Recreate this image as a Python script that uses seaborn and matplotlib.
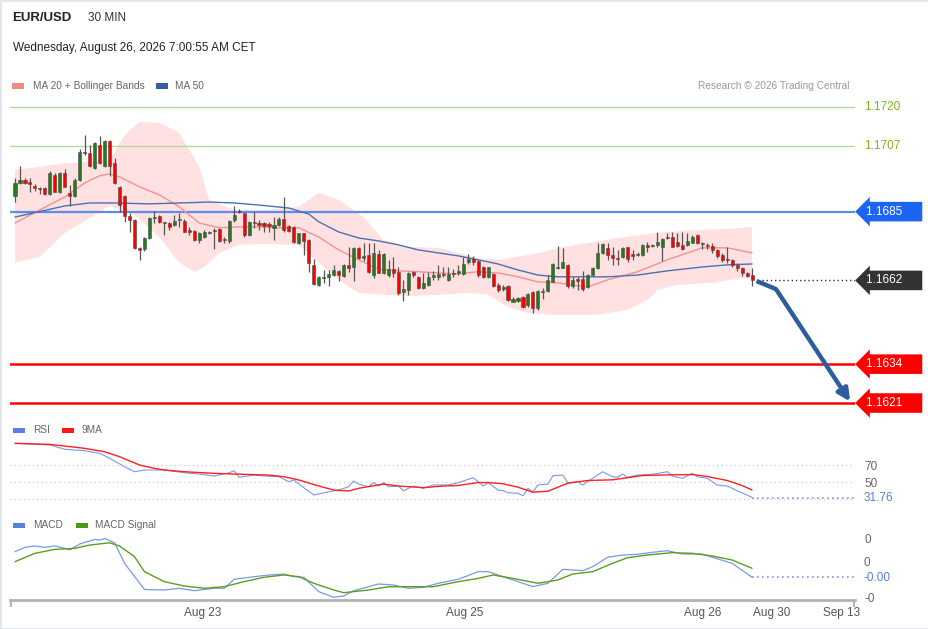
import numpy as np
import matplotlib
matplotlib.use('Agg')
import matplotlib.pyplot as plt
import seaborn as sns
from matplotlib.patches import Rectangle
from matplotlib.transforms import blended_transform_factory

# 30 min candles (index 0 = first bar on the chart)
opens = [1.16903, 1.16946, 1.16956, 1.16949, 1.16936, 1.16929, 1.16929, 1.16910, 1.16973, 1.16916,
         1.16980, 1.16913, 1.16903, 1.16956, 1.17050, 1.17046, 1.16996, 1.17073, 1.17003, 1.17087,
         1.17013, 1.16933, 1.16903, 1.16836, 1.16822, 1.16729, 1.16725, 1.16762, 1.16829, 1.16836,
         1.16815, 1.16812, 1.16805, 1.16822, 1.16819, 1.16789, 1.16786, 1.16755, 1.16765, 1.16782,
         1.16789, 1.16792, 1.16759, 1.16752, 1.16822, 1.16853, 1.16846, 1.16772, 1.16816, 1.16812,
         1.16812, 1.16809, 1.16796, 1.16805, 1.16826, 1.16802, 1.16799, 1.16745, 1.16779, 1.16755,
         1.16672, 1.16605, 1.16632, 1.16632, 1.16638, 1.16652, 1.16635, 1.16672, 1.16665, 1.16730,
         1.16695, 1.16705, 1.16638, 1.16709, 1.16646, 1.16638, 1.16658, 1.16649, 1.16582, 1.16588,
         1.16649, 1.16632, 1.16595, 1.16605, 1.16632, 1.16632, 1.16642, 1.16622, 1.16646, 1.16645,
         1.16642, 1.16682, 1.16692, 1.16685, 1.16665, 1.16632, 1.16642, 1.16605, 1.16592, 1.16602,
         1.16548, 1.16552, 1.16565, 1.16538, 1.16582, 1.16528, 1.16582, 1.16585, 1.16615, 1.16662,
         1.16662, 1.16672, 1.16602, 1.16625, 1.16625, 1.16598, 1.16638, 1.16662, 1.16712, 1.16729,
         1.16705, 1.16695, 1.16699, 1.16732, 1.16709, 1.16705, 1.16705, 1.16739, 1.16735, 1.16739,
         1.16732, 1.16765, 1.16765, 1.16749, 1.16739, 1.16739, 1.16745, 1.16772, 1.16745, 1.16739,
         1.16735, 1.16722, 1.16705, 1.16692, 1.16689, 1.16672, 1.16662, 1.16645, 1.16638]
highs = [1.16963, 1.17003, 1.16963, 1.16963, 1.16943, 1.16933, 1.16933, 1.16987, 1.16980, 1.16983,
         1.16993, 1.16939, 1.16963, 1.17060, 1.17106, 1.17073, 1.17083, 1.17103, 1.17090, 1.17090,
         1.17030, 1.16936, 1.16906, 1.16846, 1.16826, 1.16732, 1.16765, 1.16832, 1.16853, 1.16839,
         1.16816, 1.16816, 1.16839, 1.16846, 1.16826, 1.16799, 1.16789, 1.16782, 1.16789, 1.16786,
         1.16796, 1.16796, 1.16765, 1.16822, 1.16869, 1.16859, 1.16847, 1.16819, 1.16849, 1.16822,
         1.16815, 1.16815, 1.16832, 1.16832, 1.16899, 1.16805, 1.16802, 1.16779, 1.16780, 1.16759,
         1.16692, 1.16635, 1.16655, 1.16655, 1.16672, 1.16655, 1.16675, 1.16732, 1.16732, 1.16732,
         1.16745, 1.16745, 1.16745, 1.16722, 1.16712, 1.16689, 1.16699, 1.16665, 1.16622, 1.16649,
         1.16652, 1.16635, 1.16645, 1.16649, 1.16652, 1.16672, 1.16665, 1.16665, 1.16658, 1.16672,
         1.16699, 1.16709, 1.16702, 1.16689, 1.16669, 1.16665, 1.16645, 1.16612, 1.16605, 1.16605,
         1.16565, 1.16565, 1.16568, 1.16578, 1.16585, 1.16588, 1.16595, 1.16638, 1.16678, 1.16736,
         1.16729, 1.16675, 1.16632, 1.16632, 1.16652, 1.16642, 1.16665, 1.16745, 1.16745, 1.16745,
         1.16732, 1.16722, 1.16732, 1.16733, 1.16722, 1.16715, 1.16742, 1.16749, 1.16742, 1.16782,
         1.16762, 1.16779, 1.16782, 1.16779, 1.16782, 1.16779, 1.16772, 1.16775, 1.16749, 1.16745,
         1.16745, 1.16725, 1.16712, 1.16732, 1.16692, 1.16679, 1.16665, 1.16649, 1.16662]
lows = [1.16882, 1.16943, 1.16943, 1.16916, 1.16920, 1.16910, 1.16906, 1.16906, 1.16916, 1.16913,
        1.16933, 1.16869, 1.16899, 1.16953, 1.17040, 1.17000, 1.16993, 1.17010, 1.17000, 1.16970,
        1.16943, 1.16849, 1.16815, 1.16782, 1.16725, 1.16689, 1.16719, 1.16759, 1.16812, 1.16812,
        1.16772, 1.16789, 1.16802, 1.16799, 1.16782, 1.16772, 1.16752, 1.16745, 1.16762, 1.16775,
        1.16725, 1.16749, 1.16745, 1.16745, 1.16816, 1.16846, 1.16765, 1.16769, 1.16796, 1.16789,
        1.16782, 1.16782, 1.16755, 1.16802, 1.16782, 1.16782, 1.16745, 1.16742, 1.16705, 1.16649,
        1.16605, 1.16602, 1.16612, 1.16602, 1.16635, 1.16618, 1.16632, 1.16649, 1.16618, 1.16692,
        1.16685, 1.16645, 1.16628, 1.16645, 1.16642, 1.16632, 1.16632, 1.16572, 1.16552, 1.16572,
        1.16632, 1.16592, 1.16592, 1.16602, 1.16622, 1.16622, 1.16632, 1.16618, 1.16632, 1.16638,
        1.16638, 1.16675, 1.16672, 1.16632, 1.16628, 1.16628, 1.16598, 1.16582, 1.16585, 1.16552,
        1.16547, 1.16547, 1.16528, 1.16531, 1.16511, 1.16521, 1.16558, 1.16582, 1.16614, 1.16659,
        1.16661, 1.16595, 1.16595, 1.16588, 1.16585, 1.16595, 1.16635, 1.16658, 1.16709, 1.16689,
        1.16672, 1.16672, 1.16695, 1.16682, 1.16689, 1.16702, 1.16702, 1.16715, 1.16732, 1.16732,
        1.16685, 1.16759, 1.16732, 1.16732, 1.16722, 1.16735, 1.16744, 1.16742, 1.16725, 1.16725,
        1.16712, 1.16695, 1.16682, 1.16679, 1.16665, 1.16652, 1.16635, 1.16632, 1.16602]
closes = [1.16946, 1.16956, 1.16946, 1.16943, 1.16929, 1.16927, 1.16910, 1.16980, 1.16917, 1.16980,
          1.16934, 1.16903, 1.16956, 1.17050, 1.17046, 1.17001, 1.17080, 1.17013, 1.17086, 1.17001,
          1.16946, 1.16872, 1.16836, 1.16822, 1.16729, 1.16722, 1.16762, 1.16829, 1.16832, 1.16815,
          1.16812, 1.16799, 1.16819, 1.16824, 1.16783, 1.16783, 1.16755, 1.16779, 1.16782, 1.16779,
          1.16786, 1.16752, 1.16755, 1.16819, 1.16839, 1.16849, 1.16772, 1.16816, 1.16812, 1.16805,
          1.16802, 1.16802, 1.16805, 1.16826, 1.16789, 1.16786, 1.16747, 1.16778, 1.16752, 1.16678,
          1.16608, 1.16632, 1.16628, 1.16642, 1.16655, 1.16638, 1.16672, 1.16662, 1.16730, 1.16695,
          1.16702, 1.16649, 1.16712, 1.16646, 1.16709, 1.16658, 1.16645, 1.16578, 1.16590, 1.16646,
          1.16638, 1.16595, 1.16612, 1.16632, 1.16638, 1.16642, 1.16638, 1.16642, 1.16642, 1.16652,
          1.16675, 1.16692, 1.16683, 1.16638, 1.16632, 1.16664, 1.16602, 1.16588, 1.16598, 1.16555,
          1.16558, 1.16562, 1.16531, 1.16575, 1.16528, 1.16585, 1.16585, 1.16622, 1.16675, 1.16665,
          1.16682, 1.16602, 1.16622, 1.16618, 1.16592, 1.16638, 1.16662, 1.16712, 1.16742, 1.16705,
          1.16695, 1.16692, 1.16729, 1.16692, 1.16702, 1.16709, 1.16739, 1.16732, 1.16739, 1.16749,
          1.16759, 1.16762, 1.16733, 1.16735, 1.16725, 1.16752, 1.16765, 1.16745, 1.16742, 1.16735,
          1.16722, 1.16702, 1.16689, 1.16688, 1.16672, 1.16662, 1.16645, 1.16635, 1.16620]

# moving averages and bands, read at selected bars
ma20_x = [0, 5, 10, 14, 17, 19, 21, 25, 29, 33, 37, 41, 45, 49, 53, 57, 61, 65, 69, 73, 77, 81, 85, 89,
          93, 97, 101, 105, 109, 113, 115, 119, 125, 131, 138, 143, 148]
ma20_y = [1.16812, 1.16856, 1.16899, 1.16946, 1.16970, 1.16976, 1.16966, 1.16933, 1.16906, 1.16866,
          1.16812, 1.16796, 1.16799, 1.16799, 1.16796, 1.16796, 1.16765, 1.16722, 1.16689, 1.16658,
          1.16652, 1.16649, 1.16645, 1.16642, 1.16649, 1.16645, 1.16632, 1.16615, 1.16612, 1.16602,
          1.16598, 1.16622, 1.16649, 1.16689, 1.16729, 1.16729, 1.16712]
ma50_x = [0, 10, 15, 20, 27, 33, 39, 44, 49, 55, 59, 61, 65, 69, 73, 77, 81, 85, 89, 93, 97, 101, 105,
          109, 113, 119, 125, 131, 138, 143, 148]
ma50_y = [1.16832, 1.16869, 1.16879, 1.16879, 1.16876, 1.16879, 1.16882, 1.16879, 1.16872, 1.16862,
          1.16842, 1.16816, 1.16782, 1.16762, 1.16752, 1.16739, 1.16722, 1.16712, 1.16702, 1.16689,
          1.16675, 1.16655, 1.16638, 1.16632, 1.16632, 1.16632, 1.16638, 1.16652, 1.16665, 1.16672,
          1.16675]
bb_up_x = [0, 5, 9, 19, 22, 25, 29, 33, 37, 39, 44, 50, 57, 61, 65, 70, 74, 79, 85, 89, 93, 97, 101,
           106, 109, 115, 121, 129, 137, 143, 148]
bb_up_y = [1.16990, 1.17000, 1.17010, 1.17023, 1.17106, 1.17150, 1.17147, 1.17113, 1.17000, 1.16889,
           1.16856, 1.16856, 1.16866, 1.16913, 1.16889, 1.16832, 1.16755, 1.16732, 1.16729, 1.16712,
           1.16695, 1.16689, 1.16699, 1.16715, 1.16729, 1.16745, 1.16762, 1.16779, 1.16789, 1.16792,
           1.16799]
bb_lo_x = [0, 5, 10, 19, 24, 29, 33, 36, 38, 41, 45, 50, 57, 61, 65, 69, 74, 79, 85, 91, 95, 99, 103,
           108, 113, 117, 123, 127, 129, 133, 140, 146, 148]
bb_lo_y = [1.16679, 1.16699, 1.16779, 1.16869, 1.16839, 1.16765, 1.16679, 1.16649, 1.16665, 1.16712,
           1.16739, 1.16742, 1.16739, 1.16679, 1.16622, 1.16578, 1.16572, 1.16568, 1.16572, 1.16578,
           1.16572, 1.16531, 1.16511, 1.16505, 1.16505, 1.16505, 1.16521, 1.16555, 1.16588, 1.16605,
           1.16612, 1.16628, 1.16628]

# RSI and its 9 period average
rsi_x = [0, 7, 10, 14, 17, 19, 22, 24, 26, 30, 34, 37, 40, 43, 44, 45, 48, 50, 53, 55, 56, 57, 60, 62,
         65, 67, 68, 69, 71, 72, 73, 74, 75, 77, 78, 80, 82, 84, 87, 89, 92, 93, 94, 95, 97, 98, 99,
         101, 102, 103, 104, 105, 107, 108, 110, 111, 113, 114, 116, 118, 120, 121, 122, 123, 125,
         128, 131, 132, 134, 136, 137, 139, 141, 143, 145, 147, 148]
rsi_y = [95.5, 93.5, 88.5, 86.8, 83.8, 77.9, 68.0, 62.1, 64.1, 64.1, 60.9, 59.4, 57.1, 60.9, 63.3, 55.5,
         58.2, 57.1, 56.2, 50.4, 52.4, 47.6, 34.7, 37.4, 40.6, 44.5, 51.2, 47.6, 44.5, 49.2, 45.3, 49.2,
         44.5, 45.3, 39.8, 45.3, 42.6, 46.5, 46.5, 49.2, 55.1, 50.4, 45.3, 49.2, 40.6, 39.8, 37.4, 36.7,
         33.9, 42.6, 38.6, 46.5, 47.6, 57.4, 58.2, 49.2, 50.4, 46.5, 54.4, 62.1, 56.2, 55.5, 59.4, 55.5,
         58.2, 59.1, 62.1, 57.1, 54.4, 60.2, 56.2, 54.4, 46.5, 45.3, 39.8, 34.7, 31.76]
rsi_ma_x = [0, 7, 14, 18, 21, 25, 28, 30, 34, 40, 44, 51, 54, 57, 61, 64, 67, 69, 74, 77, 82, 86, 89,
            93, 95, 98, 101, 104, 107, 111, 115, 120, 126, 131, 136, 139, 143, 146, 148]
rsi_ma_y = [95.5, 94.3, 89.6, 85.6, 79.8, 70.0, 66.1, 64.1, 62.1, 60.2, 59.4, 58.2, 56.2, 52.4, 45.3,
            40.6, 39.4, 42.6, 47.6, 45.3, 43.4, 45.3, 45.9, 49.4, 49.4, 47.9, 43.9, 38.0, 39.2, 48.6,
            51.8, 52.6, 57.6, 58.4, 58.8, 56.5, 51.8, 45.9, 40.6]

# MACD (units of 1e-4)
macd_x = [0, 2, 4, 6, 8, 10, 11, 13, 16, 17, 18, 20, 22, 26, 30, 33, 36, 40, 42, 44, 48, 51, 54, 56,
          58, 61, 64, 66, 68, 71, 73, 76, 79, 82, 85, 89, 93, 95, 97, 100, 103, 104, 107, 110, 114,
          116, 119, 122, 125, 128, 131, 134, 138, 140, 144, 148]
macd_y = [5.69, 7.19, 7.63, 7.19, 7.63, 6.85, 6.27, 8.31, 9.86, 9.63, 10.2, 8.71, 1.73, -7.12, -7.29,
          -6.71, -7.53, -6.71, -6.71, -3.66, -2.78, -2.20, -1.86, -2.78, -2.98, -7.86, -9.76, -9.32,
          -7.53, -6.17, -5.25, -5.59, -6.71, -6.37, -5.02, -3.66, -1.08, -1.08, -2.20, -3.90, -5.59,
          -6.17, -5.02, -0.27, -0.75, 0.61, 3.80, 4.58, 4.81, 5.49, 6.03, 4.92, 4.92, 3.80, 1.76, -2.98]
signal_x = [0, 4, 8, 12, 15, 19, 21, 24, 26, 30, 34, 38, 42, 46, 50, 54, 57, 60, 64, 66, 71, 75, 79,
            84, 89, 93, 96, 100, 105, 109, 112, 116, 120, 123, 127, 132, 136, 140, 144, 148]
signal_y = [2.31, 5.14, 6.49, 6.83, 7.95, 8.71, 7.63, 4.00, -1.08, -4.47, -5.93, -6.71, -6.17, -4.47,
            -2.98, -2.20, -2.78, -5.02, -7.29, -8.20, -7.29, -6.17, -6.17, -6.17, -4.47, -3.36, -2.20,
            -3.36, -5.02, -3.90, -1.86, -1.08, 1.76, 3.66, 4.58, 5.36, 5.14, 4.24, 2.88, 0.07]

resistances = [1.1720, 1.1707]
pivot = 1.1685
last_price = 1.1662
supports = [1.1634, 1.1621]
forecast_x = [148.9, 152.8, 167.7]
forecast_y = [1.16618, 1.16591, 1.16215]

tick_pos = [37.75, 90.2, 138.15, 152.0, 165.9]
tick_labels = ['Aug 23', 'Aug 25', 'Aug 26', 'Aug 30', 'Sep 13']

sns.set_theme(style='white')
plt.rcParams['font.family'] = ['Liberation Sans', 'DejaVu Sans']

W, H = 929, 629
fig = plt.figure(figsize=(W / 100, H / 100), dpi=100)


def box(x0, y0, x1, y1):
    return [x0 / W, 1 - y1 / H, (x1 - x0) / W, (y1 - y0) / H]


def swatch(x, y, color):
    fig.add_artist(Rectangle((x / W, 1 - (y + 2.5) / H), 12 / W, 5 / H,
                             transform=fig.transFigure, color=color, lw=0))


XMIN, XMAX = -1.004, 168.67
ax = fig.add_axes(box(10, 95, 855, 415))
ax_rsi = fig.add_axes(box(10, 435, 855, 510))
ax_macd = fig.add_axes(box(10, 530, 855, 600))
for a in (ax, ax_rsi, ax_macd):
    a.set_xlim(XMIN, XMAX)
    a.set_facecolor('none')
    for s in a.spines.values():
        s.set_visible(False)
    a.set_xticks([])
    a.set_yticks([])
ax.set_ylim(1.16170, 1.17240)
ax_rsi.set_ylim(17.1, 105.3)
ax_macd.set_ylim(-0.001068, 0.001305)

# ---- price panel ----
o = np.array(opens)
c = np.array(closes)
hi = np.maximum(np.array(highs), np.maximum(o, c))
lo = np.minimum(np.array(lows), np.minimum(o, c))
idx = np.arange(len(o))

band_x = np.r_[bb_up_x, bb_lo_x[::-1]]
band_y = np.r_[bb_up_y, bb_lo_y[::-1]]
ax.fill(band_x, band_y, color='#ffe1e1', lw=0, zorder=1)

for lvl in resistances:
    ax.axhline(lvl, color='#b5d99c', lw=1, zorder=2)
ax.axhline(pivot, color='#5a8ee8', lw=1.6, zorder=2)
for lvl in supports:
    ax.axhline(lvl, color='#ff0000', lw=1.8, zorder=2)

sns.lineplot(x=ma20_x, y=ma20_y, ax=ax, color='#f39191', lw=1, zorder=2)
sns.lineplot(x=ma50_x, y=ma50_y, ax=ax, color='#4a70b8', lw=1.0, zorder=2)

up = c >= o
ax.vlines(idx, lo, hi, color='#555555', lw=0.9, zorder=3)
body = np.maximum(np.abs(c - o), 0.00002)
ax.bar(idx, body, bottom=np.minimum(o, c), width=0.62,
       color=np.where(up, '#257a1f', '#ff0000'), edgecolor='#4a4a4a', lw=0.4, zorder=4)

ax.hlines(last_price, 150, XMAX, color='#333333', lw=1, linestyles=(0, (1, 2)), zorder=2)

ax.plot(forecast_x[:2], forecast_y[:2], color='#2e5d9e', lw=3.2, solid_capstyle='butt',
        zorder=5, clip_on=False)
ax.annotate('', xy=(forecast_x[2], forecast_y[2]), xytext=(forecast_x[1], forecast_y[1]),
            arrowprops=dict(arrowstyle='-|>', lw=3.2, color='#2e5d9e', mutation_scale=18,
                            shrinkA=0, shrinkB=0), zorder=5, annotation_clip=False)

tr = blended_transform_factory(ax.transAxes, ax.transData)
lab_x = 1 + 9 / 845
for lvl in resistances:
    ax.text(lab_x, lvl, f'{lvl:.4f}', transform=tr, color='#7cb518', fontsize=8.5,
            va='center', ha='left')
tags = [(pivot, '#1c64f2'), (last_price, '#333333'), (supports[0], '#ff0000'), (supports[1], '#ff0000')]
for lvl, col in tags:
    ax.text(1 + 11 / 845, lvl, f'{lvl:.4f}     ', transform=tr, color='white', fontsize=8.5,
            va='center', ha='left',
            bbox=dict(boxstyle='larrow,pad=0.32', fc=col, ec='none'), clip_on=False)

# ---- RSI panel ----
for lvl in (70, 50, 30):
    ax_rsi.axhline(lvl, color='#c4c4c4', lw=0.8, linestyle=(0, (1, 3)))
sns.lineplot(x=rsi_x, y=rsi_y, ax=ax_rsi, color='#7b98e8', lw=0.8)
sns.lineplot(x=rsi_ma_x, y=rsi_ma_y, ax=ax_rsi, color='#ff2020', lw=1.0)
ax_rsi.hlines(rsi_y[-1], rsi_x[-1], XMAX, color='#7b98e8', lw=1.2, linestyles=(0, (1, 2)))
ax_rsi.yaxis.tick_right()
ax_rsi.set_yticks([70, 50], ['70', '50'])
ax_rsi.tick_params(axis='y', length=0, pad=6.5, labelsize=8.5, labelcolor='#666666')
tr_rsi = blended_transform_factory(ax_rsi.transAxes, ax_rsi.transData)
ax_rsi.text(lab_x, rsi_y[-1], f'{rsi_y[-1]:.2f}', transform=tr_rsi, color='#5b7fe0',
            fontsize=8.5, va='center', ha='left')

# ---- MACD panel ----
macd_v = np.array(macd_y) * 1e-4
signal_v = np.array(signal_y) * 1e-4
sns.lineplot(x=macd_x, y=macd_v, ax=ax_macd, color='#7b98e8', lw=0.9)
sns.lineplot(x=signal_x, y=signal_v, ax=ax_macd, color='#5c9e1e', lw=1)
ax_macd.hlines(macd_v[-1], macd_x[-1], XMAX, color='#7b98e8', lw=1.2, linestyles=(0, (1, 2)))
ax_macd.yaxis.tick_right()
ax_macd.set_yticks([0.001, -0.001], ['0', '-0'])
ax_macd.tick_params(axis='y', length=0, pad=6.5, labelsize=8.5, labelcolor='#666666')
tr_macd = blended_transform_factory(ax_macd.transAxes, ax_macd.transData)
# zero label nudged up so it clears the last-value label below it
ax_macd.text(lab_x, 0.00019, '0', transform=tr_macd, color='#666666', fontsize=8.5,
             va='center', ha='left', zorder=1)
ax_macd.text(lab_x, macd_v[-1] - 0.00003, f'{macd_v[-1]:.2f}', transform=tr_macd, color='#5b7fe0',
             fontsize=8.5, va='center', ha='left', zorder=3)

ax_macd.spines['bottom'].set_visible(True)
ax_macd.spines['bottom'].set_color('#b3b3b3')
ax_macd.spines['bottom'].set_linewidth(2)
ax_macd.set_xticks(tick_pos, tick_labels)
ax_macd.set_xticks([XMIN + 0.2, XMAX - 0.2], minor=True)
ax_macd.tick_params(axis='x', which='major', length=0, pad=5, labelsize=8.5, labelcolor='#555555')
ax_macd.tick_params(axis='x', which='minor', bottom=True, length=5, width=1.5, color='#b3b3b3')

# ---- header and legends ----
fig.text(12 / W, 1 - 18 / H, 'EUR/USD', fontsize=9.5, fontweight='bold', color='#222222', va='center')
fig.text(88 / W, 1 - 18 / H, '30 MIN', fontsize=8.5, color='#333333', va='center')
fig.text(13 / W, 1 - 48 / H, 'Wednesday, August 26, 2026 7:00:55 AM CET', fontsize=8.5,
         color='#222222', va='center')

swatch(12, 86, '#f28b82')
fig.text(33 / W, 1 - 86 / H, 'MA 20 + Bollinger Bands', fontsize=7.3, color='#666666', va='center')
swatch(156, 86, '#3a5ca8')
fig.text(175 / W, 1 - 86 / H, 'MA 50', fontsize=7.3, color='#666666', va='center')
fig.text(850 / W, 1 - 86 / H, 'Research \u00a9 2026 Trading Central', fontsize=7.3, color='#9a9a9a',
         va='center', ha='right')

swatch(13, 430, '#5b7fe0')
fig.text(33 / W, 1 - 430 / H, 'RSI', fontsize=7.3, color='#666666', va='center')
swatch(62, 430, '#ff1a1a')
fig.text(82 / W, 1 - 430 / H, '9MA', fontsize=7.3, color='#666666', va='center')
swatch(13, 525, '#5b7fe0')
fig.text(33 / W, 1 - 525 / H, 'MACD', fontsize=7.3, color='#666666', va='center')
swatch(76, 525, '#4c9a10')
fig.text(95 / W, 1 - 525 / H, 'MACD Signal', fontsize=7.3, color='#666666', va='center')

fig.add_artist(Rectangle((0, 0), 1, 1, transform=fig.transFigure, fill=False,
                         ec='#e2e6eb', lw=2))

fig.savefig('out.png', dpi=100)
